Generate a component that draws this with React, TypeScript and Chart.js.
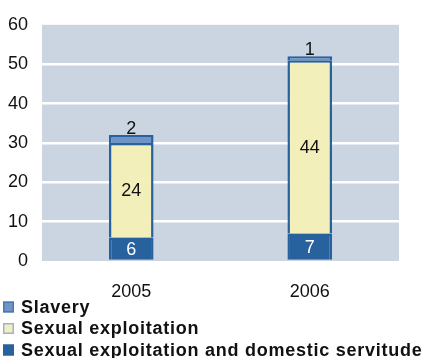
import React, { useEffect, useRef } from "react";
import { Chart, registerables } from "chart.js";

Chart.register(...registerables);

const categories = ["2005", "2006"];
const domesticServitude = [6, 7];
const sexualExploitation = [24, 44];
const slavery = [2, 1];
const seriesNames = [
  "Sexual exploitation and domestic servitude",
  "Sexual exploitation",
  "Slavery",
];
const yMax = 60;
const yStep = 10;

const DARK = "#28629E";
const YELLOW = "#F3EFBA";
const MID = "#7094C6";
const PLOT_BG = "#CBD5E1";
const FONT = "'Liberation Sans', Arial, sans-serif";

const plotBg = {
  id: "plotBg",
  beforeDraw(chart: any) {
    const { ctx, chartArea } = chart;
    ctx.save();
    ctx.fillStyle = PLOT_BG;
    ctx.fillRect(chartArea.left, chartArea.top, chartArea.right - chartArea.left, chartArea.bottom - chartArea.top);
    ctx.restore();
  },
};

const dataLabels = {
  id: "dataLabels",
  afterDatasetsDraw(chart: any) {
    const { ctx } = chart;
    ctx.save();
    ctx.font = "18px " + FONT;
    ctx.textAlign = "center";
    chart.data.datasets.forEach((ds: any, di: number) => {
      const meta = chart.getDatasetMeta(di);
      meta.data.forEach((el: any, i: number) => {
        const v = ds.data[i];
        if (di === 2) {
          ctx.fillStyle = "#111";
          ctx.textBaseline = "alphabetic";
          ctx.fillText(String(v), el.x, el.y - 1);
        } else {
          ctx.fillStyle = di === 0 ? "#ffffff" : "#111";
          ctx.textBaseline = "middle";
          ctx.fillText(String(v), el.x, (el.y + el.base) / 2 + 1);
        }
      });
    });
    ctx.restore();
  },
};

const customLegend = {
  id: "customLegend",
  afterDraw(chart: any) {
    const { ctx } = chart;
    const items = chart.data.datasets.map((d: any) => d).reverse();
    const borders = ["#4A78B2", "#9DB3D6", DARK];
    ctx.save();
    ctx.font = "bold 18px " + FONT;
    (ctx as any).letterSpacing = "0.75px";
    ctx.textBaseline = "middle";
    ctx.textAlign = "left";
    items.forEach((ds: any, i: number) => {
      const cy = 307 + i * 21.5;
      ctx.fillStyle = ds.backgroundColor;
      ctx.fillRect(3, cy - 5.5, 11, 11);
      ctx.strokeStyle = borders[i];
      ctx.lineWidth = 1.5;
      ctx.strokeRect(3.75, cy - 4.75, 9.5, 9.5);
      ctx.fillStyle = "#111";
      ctx.fillText(ds.label, 21, cy + 1);
    });
    ctx.restore();
  },
};

export default function App() {
  const ref = useRef<HTMLCanvasElement | null>(null);
  useEffect(() => {
    if (!ref.current) return;
    const common = { borderColor: DARK, borderWidth: 2.5, barPercentage: 0.25, categoryPercentage: 1 };
    const chart = new Chart(ref.current, {
      type: "bar",
      data: {
        labels: categories,
        datasets: [
          { label: seriesNames[0], data: domesticServitude, backgroundColor: DARK, ...common },
          { label: seriesNames[1], data: sexualExploitation, backgroundColor: YELLOW, ...common },
          { label: seriesNames[2], data: slavery, backgroundColor: MID, ...common },
        ],
      },
      options: {
        responsive: false,
        animation: false,
        layout: { padding: { top: 13, right: 29, bottom: 61, left: 0 } },
        plugins: { legend: { display: false }, tooltip: { enabled: false } },
        scales: {
          x: {
            stacked: true,
            grid: { display: false },
            border: { display: false },
            ticks: { color: "#111", font: { size: 18, family: FONT }, padding: 12 },
            afterFit(scale: any) {
              scale.height = 36;
            },
          },
          y: {
            stacked: true,
            min: 0,
            max: yMax,
            ticks: { stepSize: yStep, color: "#111", font: { size: 18, family: FONT }, padding: 14 },
            grid: {
              color: (c: any) => (c.tick && (c.tick.value === 0 || c.tick.value === yMax) ? "rgba(0,0,0,0)" : "#ffffff"),
              lineWidth: 2.5,
              drawTicks: false,
            },
            border: { display: false },
            afterFit(scale: any) {
              scale.width = 42;
            },
          },
        },
      },
      plugins: [plotBg, dataLabels, customLegend],
    });
    return () => chart.destroy();
  }, []);
  return (
    <div style={{ position: "fixed", left: 0, top: 0, width: 428, height: 358, background: "#fff" }}>
      <canvas ref={ref} width={428} height={358} style={{ width: 428, height: 358, display: "block" }} />
    </div>
  );
}
